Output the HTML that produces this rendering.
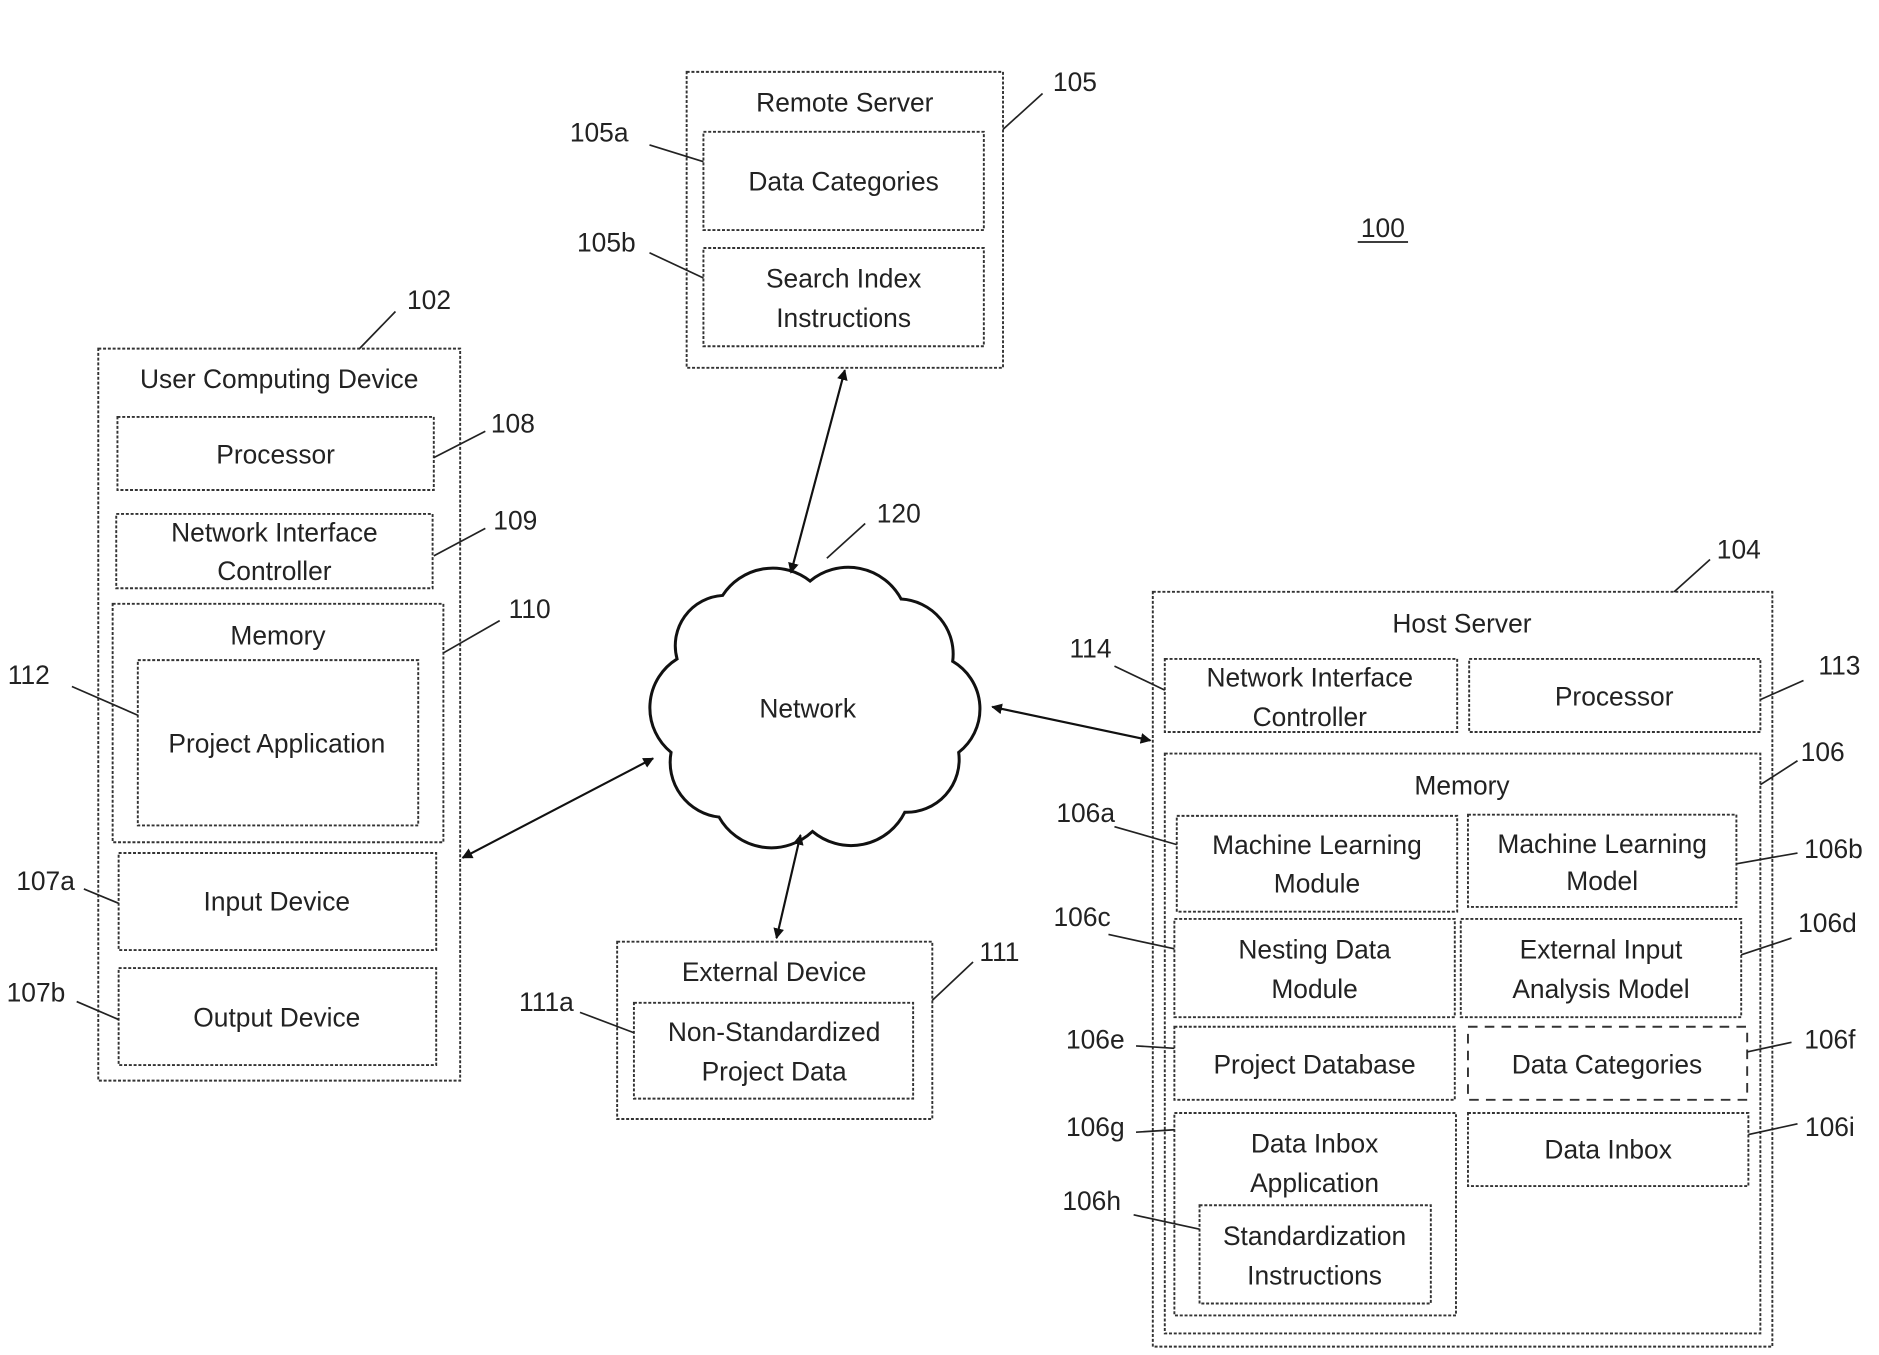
<!DOCTYPE html>
<html><head><meta charset="utf-8"><style>
html,body{margin:0;padding:0;background:#fff}
svg{display:block}
text{font-family:"Liberation Sans",sans-serif;font-size:22px;fill:#222;text-anchor:middle}
.b{fill:none;stroke:#333;stroke-width:1.6;stroke-dasharray:2.5,1.5}
.d{fill:none;stroke:#333;stroke-width:1.6;stroke-dasharray:8,6}
.ln{stroke:#222;stroke-width:1.4;fill:none}
.ar{stroke:#111;stroke-width:1.8;fill:none;marker-start:url(#m);marker-end:url(#m)}
</style></head><body>
<svg width="1879" height="1355" viewBox="0 0 1568 1131" preserveAspectRatio="none" xmlns="http://www.w3.org/2000/svg">
<defs><marker id="m" viewBox="0 0 10 10" refX="9" refY="5" markerWidth="9" markerHeight="9" markerUnits="userSpaceOnUse" orient="auto-start-reverse"><path d="M0,0 L10,5 L0,10 z" fill="#111"/></marker></defs>

<rect class="b" x="573" y="60" width="264" height="247"/>
<text x="705" y="93">Remote Server</text>
<rect class="b" x="587" y="110" width="234" height="82"/>
<text x="704" y="159">Data Categories</text>
<rect class="b" x="587" y="207" width="234" height="82"/>
<text x="704" y="240">Search Index</text>
<text x="704" y="273">Instructions</text>
<text x="897" y="76">105</text><path class="ln" d="M837,108 L870,78"/>
<text x="500" y="118">105a</text><path class="ln" d="M542,121 L587,135"/>
<text x="506" y="210">105b</text><path class="ln" d="M542,211 L587,232"/>
<text x="1154" y="198">100</text><path class="ln" d="M1133,202 L1175,202"/>

<rect class="b" x="82" y="291" width="302" height="611"/>
<text x="233" y="324">User Computing Device</text>
<rect class="b" x="98" y="348" width="264" height="61"/>
<text x="230" y="387">Processor</text>
<rect class="b" x="97" y="429" width="264" height="62"/>
<text x="229" y="452">Network Interface</text>
<text x="229" y="484">Controller</text>
<rect class="b" x="94" y="504" width="276" height="199"/>
<text x="232" y="538">Memory</text>
<rect class="b" x="115" y="551" width="234" height="138"/>
<text x="231" y="628">Project Application</text>
<rect class="b" x="99" y="712" width="265" height="81"/>
<text x="231" y="760">Input Device</text>
<rect class="b" x="99" y="808" width="265" height="81"/>
<text x="231" y="857">Output Device</text>
<text x="358" y="258">102</text><path class="ln" d="M300,291 L330,260"/>
<text x="428" y="361">108</text><path class="ln" d="M362,382 L405,360"/>
<text x="430" y="442">109</text><path class="ln" d="M362,464 L405,441"/>
<text x="442" y="516">110</text><path class="ln" d="M370,545 L417,518"/>
<text x="24" y="571">112</text><path class="ln" d="M60,573 L115,597"/>
<text x="38" y="743">107a</text><path class="ln" d="M70,742 L99,754"/>
<text x="30" y="836">107b</text><path class="ln" d="M64,836 L99,851"/>

<path d="M603,497 A50,50 0 0 1 676,485 A50,50 0 0 1 752,500 A46,46 0 0 1 795,552 A46,46 0 0 1 800,628 A44,44 0 0 1 755,678 A50,50 0 0 1 678,694 A50,50 0 0 1 600,682 A46,46 0 0 1 560,628 A48,48 0 0 1 565,550 A42,42 0 0 1 603,497 Z" fill="#fff" stroke="#111" stroke-width="2.5"/>
<text x="674" y="599">Network</text>
<text x="750" y="436">120</text><path class="ln" d="M690,466 L722,437"/>

<path class="ar" d="M660,478 L705,309"/>
<path class="ar" d="M545,633 L386,716"/>
<path class="ar" d="M668,697 L648,783"/>
<path class="ar" d="M828,590 L960,618"/>

<rect class="b" x="515" y="786" width="263" height="148"/>
<text x="646" y="819">External Device</text>
<rect class="b" x="529" y="837" width="233" height="80"/>
<text x="646" y="869">Non-Standardized</text>
<text x="646" y="902">Project Data</text>
<text x="834" y="802">111</text><path class="ln" d="M778,835 L812,803"/>
<text x="456" y="844">111a</text><path class="ln" d="M484,845 L529,862"/>

<rect class="b" x="962" y="494" width="517" height="630"/>
<text x="1220" y="528">Host Server</text>
<rect class="b" x="972" y="550" width="244" height="61"/>
<text x="1093" y="573">Network Interface</text>
<text x="1093" y="606">Controller</text>
<rect class="b" x="1226" y="550" width="243" height="61"/>
<text x="1347" y="589">Processor</text>
<rect class="b" x="972" y="629" width="497" height="484"/>
<text x="1220" y="663">Memory</text>
<rect class="b" x="982" y="681" width="234" height="80"/>
<text x="1099" y="713">Machine Learning</text>
<text x="1099" y="745">Module</text>
<rect class="b" x="1225" y="680" width="224" height="77"/>
<text x="1337" y="712">Machine Learning</text>
<text x="1337" y="743">Model</text>
<rect class="b" x="980" y="767" width="234" height="82"/>
<text x="1097" y="800">Nesting Data</text>
<text x="1097" y="833">Module</text>
<rect class="b" x="1219" y="767" width="234" height="82"/>
<text x="1336" y="800">External Input</text>
<text x="1336" y="833">Analysis Model</text>
<rect class="b" x="980" y="857" width="234" height="61"/>
<text x="1097" y="896">Project Database</text>
<rect class="d" x="1225" y="857" width="233" height="61"/>
<text x="1341" y="896">Data Categories</text>
<rect class="b" x="980" y="929" width="235" height="169"/>
<text x="1097" y="962">Data Inbox</text>
<text x="1097" y="995">Application</text>
<rect class="b" x="1001" y="1006" width="193" height="82"/>
<text x="1097" y="1039">Standardization</text>
<text x="1097" y="1072">Instructions</text>
<rect class="b" x="1225" y="929" width="234" height="61"/>
<text x="1342" y="967">Data Inbox</text>
<text x="1451" y="466">104</text><path class="ln" d="M1397,494 L1427,467"/>
<text x="910" y="549">114</text><path class="ln" d="M930,556 L972,576"/>
<text x="1535" y="563">113</text><path class="ln" d="M1469,584 L1505,568"/>
<text x="1521" y="635">106</text><path class="ln" d="M1469,655 L1500,635"/>
<text x="906" y="686">106a</text><path class="ln" d="M930,690 L982,705"/>
<text x="1530" y="716">106b</text><path class="ln" d="M1449,721 L1500,712"/>
<text x="903" y="773">106c</text><path class="ln" d="M925,780 L980,792"/>
<text x="1525" y="778">106d</text><path class="ln" d="M1453,797 L1495,783"/>
<text x="914" y="875">106e</text><path class="ln" d="M948,873 L980,875"/>
<text x="1527" y="875">106f</text><path class="ln" d="M1458,878 L1495,870"/>
<text x="914" y="948">106g</text><path class="ln" d="M948,945 L980,943"/>
<text x="911" y="1010">106h</text><path class="ln" d="M946,1014 L1001,1026"/>
<text x="1527" y="948">106i</text><path class="ln" d="M1459,947 L1500,938"/>
</svg>
</body></html>
